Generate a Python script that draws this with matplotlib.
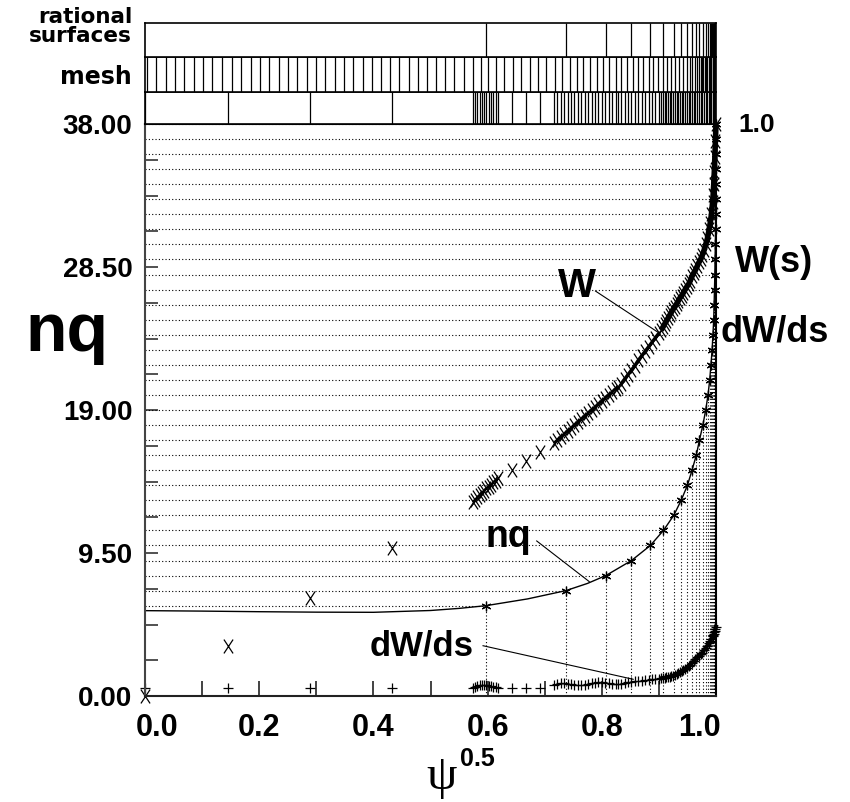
import matplotlib
matplotlib.use('Agg')
import matplotlib.pyplot as plt
import matplotlib.transforms as mtrans
from matplotlib.path import Path
import numpy as np

plt.rcParams['font.family'] = ['Liberation Sans', 'DejaVu Sans']
plt.rcParams['font.weight'] = 'bold'

# ---------------- data ----------------
rational_m = list(range(6, 39))
rational_x = [0.597, 0.737, 0.807, 0.852, 0.885, 0.908, 0.926, 0.939, 0.950, 0.958,
              0.9655, 0.971, 0.977, 0.982, 0.986, 0.989, 0.9912, 0.9932, 0.9948, 0.9960,
              0.9970, 0.9977, 0.9983, 0.9987, 0.9990, 0.9993, 0.9995, 0.9996, 0.9997,
              0.9998, 0.99985, 0.9999, 1.0]

nq_prof_x = [0.0, 0.1, 0.2, 0.3, 0.4, 0.5, 0.55, 0.597, 0.67, 0.737, 0.775, 0.807,
             0.852, 0.885, 0.908, 0.926, 0.939, 0.950, 0.958, 0.9655, 0.971, 0.977,
             0.982, 0.986, 0.989, 0.9932, 0.996, 0.998, 0.9993, 1.0]
nq_prof_y = [5.67, 5.64, 5.60, 5.57, 5.56, 5.68, 5.82, 6.0, 6.45, 7.0, 7.48, 8.0,
             9.0, 10.0, 11.0, 12.0, 13.0, 14.0, 15.0, 16.0, 17.0, 18.0,
             19.0, 20.0, 21.0, 23.0, 25.0, 28.0, 31.0, 38.0]

mesh_x = [0.003, 0.019, 0.036, 0.053, 0.069, 0.085, 0.102, 0.118, 0.135, 0.152, 0.168,
          0.185, 0.201, 0.218, 0.235, 0.251, 0.267, 0.283, 0.300, 0.316, 0.332, 0.348,
          0.364, 0.381, 0.397, 0.413, 0.429, 0.445, 0.462, 0.478, 0.494, 0.510, 0.526,
          0.542, 0.558, 0.574, 0.588, 0.600, 0.614, 0.628, 0.644, 0.658, 0.674, 0.688,
          0.703, 0.718, 0.731, 0.744, 0.756, 0.767, 0.779, 0.791, 0.802, 0.812, 0.824,
          0.834, 0.844, 0.854, 0.863, 0.872, 0.882, 0.890, 0.899, 0.907, 0.914, 0.922,
          0.929, 0.936, 0.943, 0.949, 0.954, 0.958, 0.963, 0.966, 0.970, 0.973, 0.976,
          0.978, 0.981, 0.983, 0.985, 0.987, 0.989, 0.991, 0.992, 0.994, 0.995, 0.996,
          0.997, 0.998, 1.0]

# W(s) and dW/ds sample points
w_x_a = [0.0, 0.145, 0.289, 0.432]
w_x_b = [0.574, 0.578, 0.582, 0.586, 0.590, 0.594, 0.598, 0.602, 0.606, 0.610, 0.614, 0.618]
w_x_c = [0.642, 0.667, 0.691]
w_x_d = [0.716, 0.722, 0.728, 0.734, 0.740, 0.746, 0.752, 0.758, 0.764, 0.770,
         0.776, 0.782, 0.788, 0.794, 0.800, 0.806, 0.812, 0.818, 0.824, 0.828]
w_x_e = [0.834, 0.840, 0.846, 0.852, 0.858, 0.864, 0.870, 0.876, 0.882, 0.888, 0.894, 0.900]
w_x_f = [0.904, 0.907, 0.910, 0.913, 0.916, 0.919, 0.922, 0.925, 0.928, 0.931,
         0.934, 0.937, 0.940, 0.943, 0.946, 0.949, 0.952, 0.955, 0.958, 0.961,
         0.964, 0.967, 0.970, 0.973, 0.976, 0.979, 0.982, 0.985, 0.988, 0.990,
         0.992, 0.994, 0.995, 0.996, 0.997, 0.998, 0.999, 1.0]

w_a = [0.0, 3.3, 6.5, 9.8]
w_b = [12.9, 13.05, 13.2, 13.35, 13.5, 13.65, 13.8, 13.9, 14.05, 14.2, 14.3, 14.45]
w_c = [15.0, 15.6, 16.2]
w_d = [16.8, 17.0, 17.2, 17.4, 17.6, 17.8, 18.0, 18.2, 18.4, 18.6,
       18.8, 19.0, 19.2, 19.4, 19.6, 19.8, 20.0, 20.2, 20.4, 20.55]
w_e = [20.75, 21.05, 21.35, 21.65, 21.95, 22.3, 22.6, 22.9, 23.2, 23.5, 23.8, 24.1]
w_f = [24.3, 24.5, 24.7, 24.9, 25.1, 25.3, 25.5, 25.7, 25.85, 26.05,
       26.25, 26.45, 26.6, 26.8, 27.0, 27.2, 27.35, 27.6, 27.9, 28.1,
       28.3, 28.55, 28.8, 29.0, 29.3, 29.6, 30.0, 30.4, 31.0, 31.45,
       32.0, 32.8, 33.3, 34.0, 34.8, 35.8, 36.9, 38.0]

dw_a = [0.5, 0.5, 0.5, 0.5]
dw_b = [0.55, 0.6, 0.65, 0.7, 0.7, 0.72, 0.7, 0.68, 0.65, 0.6, 0.58, 0.55]
dw_c = [0.5, 0.5, 0.5]
dw_d = [0.75, 0.8, 0.85, 0.85, 0.8, 0.78, 0.75, 0.72, 0.72, 0.75,
        0.8, 0.85, 0.88, 0.9, 0.9, 0.88, 0.85, 0.82, 0.8, 0.78]
dw_e = [0.8, 0.85, 0.9, 0.95, 0.98, 1.0, 1.02, 1.05, 1.08, 1.1, 1.12, 1.15]
dw_f = [1.18, 1.2, 1.21, 1.23, 1.26, 1.29, 1.32, 1.36, 1.4, 1.46,
        1.52, 1.58, 1.65, 1.73, 1.8, 1.88, 1.98, 2.07, 2.2, 2.33,
        2.45, 2.56, 2.68, 2.78, 2.88, 3.05, 3.2, 3.35, 3.55, 3.65,
        3.8, 4.0, 4.05, 4.15, 4.25, 4.35, 4.45, 4.6]

w_x = w_x_a + w_x_b + w_x_c + w_x_d + w_x_e + w_x_f
w_val = w_a + w_b + w_c + w_d + w_e + w_f
dw_val = dw_a + dw_b + dw_c + dw_d + dw_e + dw_f

y_major = [0.0, 9.5, 19.0, 28.5, 38.0]
y_labels = ['0.00', '9.50', '19.00', '28.50', '38.00']
x_major = [0.0, 0.2, 0.4, 0.6, 0.8, 1.0]
x_labels = ['0.0', '0.2', '0.4', '0.6', '0.8', '1.0']

# ---------------- figure ----------------
W, H = 850, 802
fig = plt.figure(figsize=(W / 100, H / 100), dpi=100)

def frac(x0, y0, x1, y1):
    return [x0 / W, 1 - y1 / H, (x1 - x0) / W, (y1 - y0) / H]

ax = fig.add_axes(frac(145, 124, 716, 696))
s3 = fig.add_axes(frac(145, 92, 716, 124))
s2 = fig.add_axes(frac(145, 57, 716, 92))
s1 = fig.add_axes(frac(145, 23, 716, 57))

for s, xs in ((s1, rational_x), (s2, mesh_x), (s3, w_x)):
    s.set_xlim(0, 1.0)
    s.set_ylim(0, 1)
    s.set_xticks([])
    s.set_yticks([])
    for sp in s.spines.values():
        sp.set_linewidth(1.2)
        sp.set_color('black')
    s.vlines(xs, 0, 1, colors='black', linewidth=0.9)

ax.set_xlim(0, 1.0)
ax.set_ylim(0, 38)

dot = (0, (1, 2))
for xm, m in zip(rational_x, rational_m):
    ax.plot([0, xm], [m, m], color='black', lw=0.8, ls=dot)
    ax.plot([xm, xm], [0, m], color='black', lw=0.8, ls=dot)

ax.plot(nq_prof_x, nq_prof_y, color='black', lw=1.0, clip_on=False)
ax.plot(rational_x, rational_m, ls='none', marker=(6, 2, 0), ms=7,
        mec='black', mew=0.9, clip_on=False)

xmark = Path([(-0.33, -0.5), (0.33, 0.5), (-0.33, 0.5), (0.33, -0.5)],
             [Path.MOVETO, Path.LINETO, Path.MOVETO, Path.LINETO])
# dense W clusters drawn with a solid core as in the reference
for xs_, ys_, lw_ in ((w_x_b, w_b, 1.5), (w_x_d, w_d, 2.0), (w_x_e, w_e, 2.5),
                      (w_x_f, w_f, 4.0)):
    ax.plot(xs_, ys_, color='black', lw=lw_, solid_capstyle='butt', clip_on=False)
ax.plot(w_x, w_val, ls='none', marker=xmark, ms=10, mec='black', mew=0.9,
        clip_on=False)
ax.plot(w_x_f, dw_f, color='black', lw=3.0, clip_on=False)
ax.plot(w_x, dw_val, ls='none', marker='+', ms=7, mec='black', mew=0.9,
        clip_on=False)

# pointer labels
ax.plot([0.789, 0.901], [26.9, 24.1], color='black', lw=0.8)
ax.text(0.757, 26.5, 'W', ha='center', va='baseline', fontsize=29)
ax.plot([0.686, 0.778], [10.3, 7.6], color='black', lw=0.8)
ax.text(0.636, 9.92, 'nq', ha='center', va='baseline', fontsize=27)
ax.plot([0.592, 0.855], [3.34, 1.11], color='black', lw=0.8)
ax.text(0.484, 2.72, 'dW/ds', ha='center', va='baseline', fontsize=25)

# ticks
ax.set_yticks(y_major)
ax.set_yticklabels(y_labels)
ax.set_yticks(np.arange(0, 38.01, 2.375), minor=True)
ax.set_xticks(x_major)
ax.set_xticklabels(x_labels)
ax.set_xticks([0.1, 0.3, 0.5, 0.7, 0.9], minor=True)
ax.tick_params(axis='y', which='both', direction='in', length=9, width=1.2,
               pad=9, labelsize=20, color='#333333')
ax.tick_params(axis='x', which='both', direction='in', length=11, width=1.2,
               pad=12, labelsize=22, color='#222222')
ax.tick_params(top=False, right=False)
xl = ax.get_xticklabels()
xl[0].set_transform(xl[0].get_transform() + mtrans.ScaledTranslation(0.12, 0, fig.dpi_scale_trans))
xl[-1].set_transform(xl[-1].get_transform() + mtrans.ScaledTranslation(-0.17, 0, fig.dpi_scale_trans))

for k, sp in ax.spines.items():
    sp.set_linewidth(1.5)
ax.spines['left'].set_color('#444444')
ax.spines['bottom'].set_color('#222222')

# outer labels
fig.text(132 / W, 1 - 23 / H, 'rational', ha='right', va='baseline',
         fontsize=15.5, family='DejaVu Sans')
fig.text(132 / W, 1 - 42 / H, 'surfaces', ha='right', va='baseline',
         fontsize=15.5, family='DejaVu Sans')
fig.text(132 / W, 1 - 84 / H, 'mesh', ha='right', va='baseline',
         fontsize=17, family='DejaVu Sans')
fig.text(67 / W, 1 - 351 / H, 'nq', ha='center', va='baseline', fontsize=49)
fig.text(738 / W, 1 - 132 / H, '1.0', ha='left', va='baseline', fontsize=19)
fig.text(735 / W, 1 - 272 / H, 'W(s)', ha='left', va='baseline', fontsize=26)
fig.text(721 / W, 1 - 341 / H, 'dW/ds', ha='left', va='baseline', fontsize=26)
fig.text(442 / W, 1 - 789 / H, 'ψ', ha='center', va='baseline', fontsize=35,
         family='Liberation Serif', weight='normal')
fig.text(460 / W, 1 - 766 / H, '0.5', ha='left', va='baseline', fontsize=18)

fig.savefig('out.png', dpi=100)
